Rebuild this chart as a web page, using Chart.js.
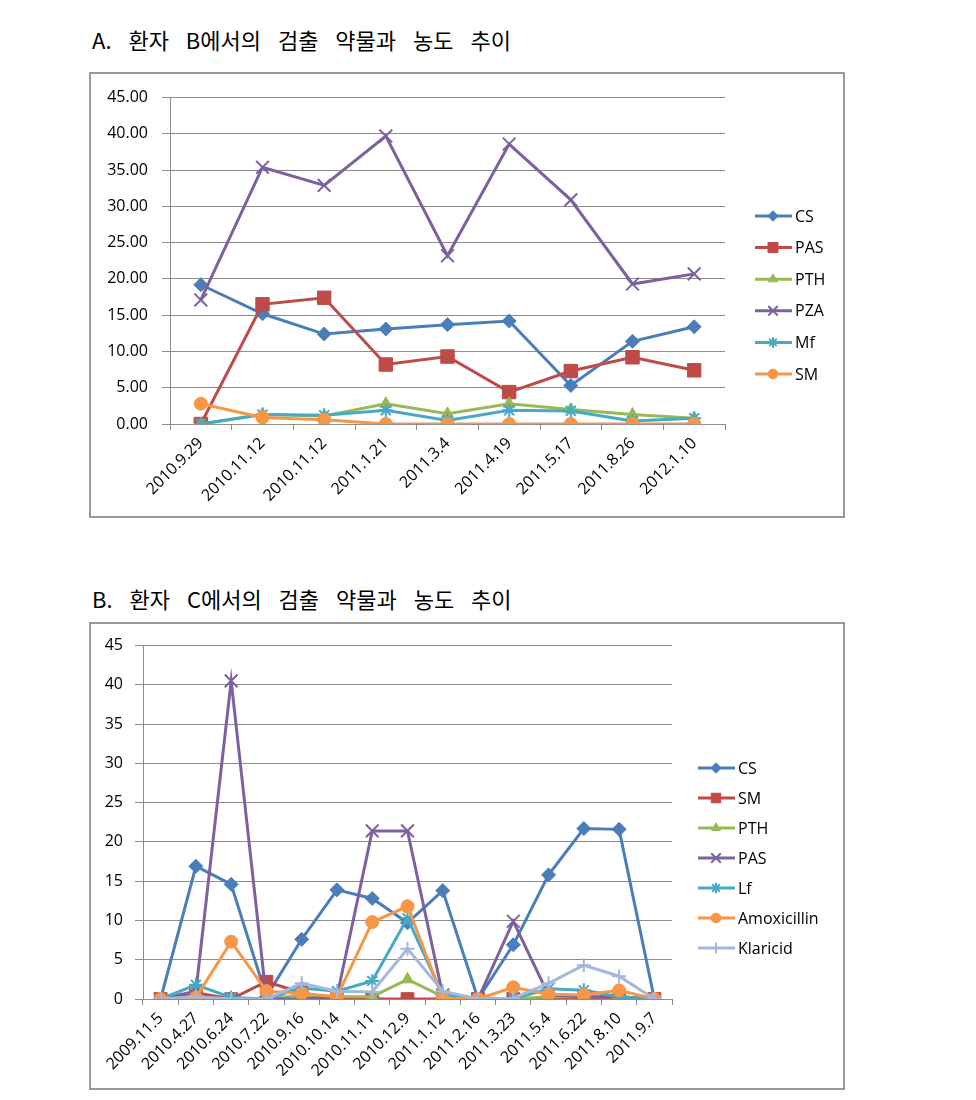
<!DOCTYPE html>
<html>
<head>
<meta charset="utf-8">
<script src="https://cdn.jsdelivr.net/npm/chart.js@4.4.1/dist/chart.umd.min.js"></script>
<style>
  body { margin: 0; background: #fff; width: 976px; height: 1100px; position: relative; font-family: 'Noto Sans CJK KR', sans-serif; }
  .title { position: absolute; left: 92px; font-size: 22px; line-height: 22px; word-spacing: 12px; color: #000; white-space: nowrap; }
  .box { position: absolute; left: 89px; width: 752px; border: 2px solid #999; background: #fff; }
  .box canvas { display: block; }
</style>
</head>
<body>
<div class="title" style="top:28px">A. 환자 B에서의 검출 약물과 농도 추이</div>
<div class="box" style="top:72px;height:442px"><canvas id="chartA" width="752" height="442"></canvas></div>

<div class="title" style="top:587px">B. 환자 C에서의 검출 약물과 농도 추이</div>
<div class="box" style="top:622px;height:464px"><canvas id="chartB" width="752" height="464"></canvas></div>

<script>
// patient B
const datesA = ['2010.9.29', '2010.11.12', '2010.11.12', '2011.1.21', '2011.3.4', '2011.4.19', '2011.5.17', '2011.8.26', '2012.1.10'];
const csA  = [19.2, 15.2, 12.4, 13.1, 13.7, 14.2, 5.3, 11.4, 13.4];
const pasA = [0, 16.5, 17.4, 8.2, 9.3, 4.4, 7.3, 9.2, 7.4];
const pthA = [0, 1.3, 1.1, 2.8, 1.4, 2.8, 2.0, 1.3, 0.8];
const pzaA = [17.1, 35.4, 32.9, 39.7, 23.2, 38.6, 30.9, 19.3, 20.7];
const mfA  = [0, 1.3, 1.2, 1.9, 0.5, 1.9, 1.8, 0.4, 0.8];
const smA  = [2.8, 0.9, 0.6, 0, 0, 0, 0, 0, 0];

// patient C
const datesB = ['2009.11.5', '2010.4.27', '2010.6.24', '2010.7.22', '2010.9.16', '2010.10.14', '2010.11.11', '2010.12.9', '2011.1.12', '2011.2.16', '2011.3.23', '2011.5.4', '2011.6.22', '2011.8.10', '2011.9.7'];
const csB   = [0, 16.9, 14.6, 0.3, 7.6, 13.9, 12.8, 9.7, 13.8, 0, 6.9, 15.8, 21.7, 21.6, 0];
const smB   = [0, 0.8, 0, 2.2, 0.8, 0, 0, 0, 0, 0, 0, 0, 0, 0, 0];
const pthB  = [0, 0, 0, 0, 0.5, 0.3, 0.3, 2.5, 0.3, 0, 0, 0.3, 0.3, 0.3, 0];
const pasB  = [0, 1.0, 40.5, 0, 0, 0.3, 21.4, 21.4, 0.5, 0, 9.9, 0.5, 0.3, 0.3, 0];
const lfB   = [0, 1.8, 0.2, 0, 1.4, 1.0, 2.3, 10.3, 0.5, 0, 0, 1.3, 1.1, 0.3, 0];
const amoxB = [0, 0.2, 7.3, 1.0, 0.7, 0.3, 9.8, 11.8, 0.1, 0, 1.5, 0.6, 0.5, 1.1, 0];
const klaB  = [0, 0.3, 0, 0, 2.0, 1.0, 0.9, 6.4, 1.0, 0, 0.1, 2.0, 4.3, 2.9, 0];

const BLUE = '#4a7ebb', RED = '#be4b48', GREEN = '#98b954', PURPLE = '#7d60a0',
      TEAL = '#46aac5', ORANGE = '#f79646', LIGHT = '#a5b8dc';
const GRID = '#8c8c8c';

function line(label, data, color, style, r, n, i) {
  const open = style === 'crossRot' || style === 'star' || style === 'cross';
  return {
    label: label, data: data,
    borderColor: color, backgroundColor: color,
    pointBackgroundColor: color, pointBorderColor: color,
    pointStyle: style, pointRadius: r, pointHoverRadius: r,
    pointBorderWidth: open ? 2 : 1,
    borderWidth: 3, tension: 0,
    order: n - i   // excel puts the last series on top
  };
}

// legend drawn at a fixed spot, line + marker + name
const sideLegend = {
  id: 'sideLegend',
  afterDraw(chart, args, opts) {
    const ctx = chart.ctx;
    chart.data.datasets.forEach((ds, i) => {
      const y = opts.y + i * opts.gap;
      ctx.save();
      ctx.strokeStyle = ds.borderColor;
      ctx.fillStyle = ds.borderColor;
      ctx.lineWidth = 3;
      ctx.beginPath();
      ctx.moveTo(opts.x, y);
      ctx.lineTo(opts.x + 37, y);
      ctx.stroke();
      ctx.lineWidth = ds.pointBorderWidth;
      if (Chart.helpers && Chart.helpers.drawPoint) {
        Chart.helpers.drawPoint(ctx, {pointStyle: ds.pointStyle, radius: ds.pointRadius * 0.75, rotation: 0, borderWidth: ds.pointBorderWidth}, opts.x + 18, y);
      }
      ctx.fillStyle = '#000';
      ctx.font = '16px "Open Sans"';
      ctx.textBaseline = 'middle';
      ctx.fillText(ds.label, opts.x + 40, y + 1);
      ctx.restore();
    });
  }
};

function makeScales(yw, xh, fmt, yPad, xSize) {
  return {
    x: {
      offset: true,
      afterFit: s => { s.height = xh; },
      grid: {drawOnChartArea: false, offset: true, tickLength: 6, color: GRID},
      border: {color: GRID, width: 1},
      ticks: {autoSkip: false, minRotation: 45, maxRotation: 45, padding: 4, color: '#000',
              font: {family: 'Open Sans', size: xSize}}
    },
    y: {
      min: 0, max: 45,
      afterFit: s => { s.width = yw; },
      grid: {color: GRID, tickLength: 8, lineWidth: 1},
      border: {color: GRID, width: 1},
      ticks: {stepSize: 5, padding: yPad, color: '#000', font: {family: 'Open Sans', size: 16},
              callback: v => fmt(v)}
    }
  };
}

const common = {
  responsive: false,
  animation: false,
  events: [],
  plugins: {legend: {display: false}, tooltip: {enabled: false}}
};

new Chart(document.getElementById('chartA'), {
  type: 'line',
  data: {
    labels: datesA,
    datasets: [
      line('CS', csA, BLUE, 'rectRot', 7, 6, 0),
      line('PAS', pasA, RED, 'rect', 9.5, 6, 1),
      line('PTH', pthA, GREEN, 'triangle', 7, 6, 2),
      line('PZA', pzaA, PURPLE, 'crossRot', 9, 6, 3),
      line('Mf', mfA, TEAL, 'star', 7, 6, 4),
      line('SM', smA, ORANGE, 'circle', 6.5, 6, 5)
    ]
  },
  options: Object.assign({}, common, {
    layout: {padding: {left: 0, top: 18, right: 118, bottom: 0}},
    scales: makeScales(79, 92, v => v.toFixed(2), 14, 16),
    plugins: Object.assign({}, common.plugins, {sideLegend: {x: 664, y: 142, gap: 31.6}})
  }),
  plugins: [sideLegend]
});

new Chart(document.getElementById('chartB'), {
  type: 'line',
  data: {
    labels: datesB,
    datasets: [
      line('CS', csB, BLUE, 'rectRot', 7, 7, 0),
      line('SM', smB, RED, 'rect', 9, 7, 1),
      line('PTH', pthB, GREEN, 'triangle', 7, 7, 2),
      line('PAS', pasB, PURPLE, 'crossRot', 9, 7, 3),
      line('Lf', lfB, TEAL, 'star', 7, 7, 4),
      line('Amoxicillin', amoxB, ORANGE, 'circle', 6.5, 7, 5),
      line('Klaricid', klaB, LIGHT, 'cross', 7, 7, 6)
    ]
  },
  options: Object.assign({}, common, {
    layout: {padding: {left: 0, top: 17, right: 171, bottom: 0}},
    scales: makeScales(52, 89, v => String(v), 12, 16),
    plugins: Object.assign({}, common.plugins, {sideLegend: {x: 607, y: 144, gap: 30}})
  }),
  plugins: [sideLegend]
});
</script>
</body>
</html>
